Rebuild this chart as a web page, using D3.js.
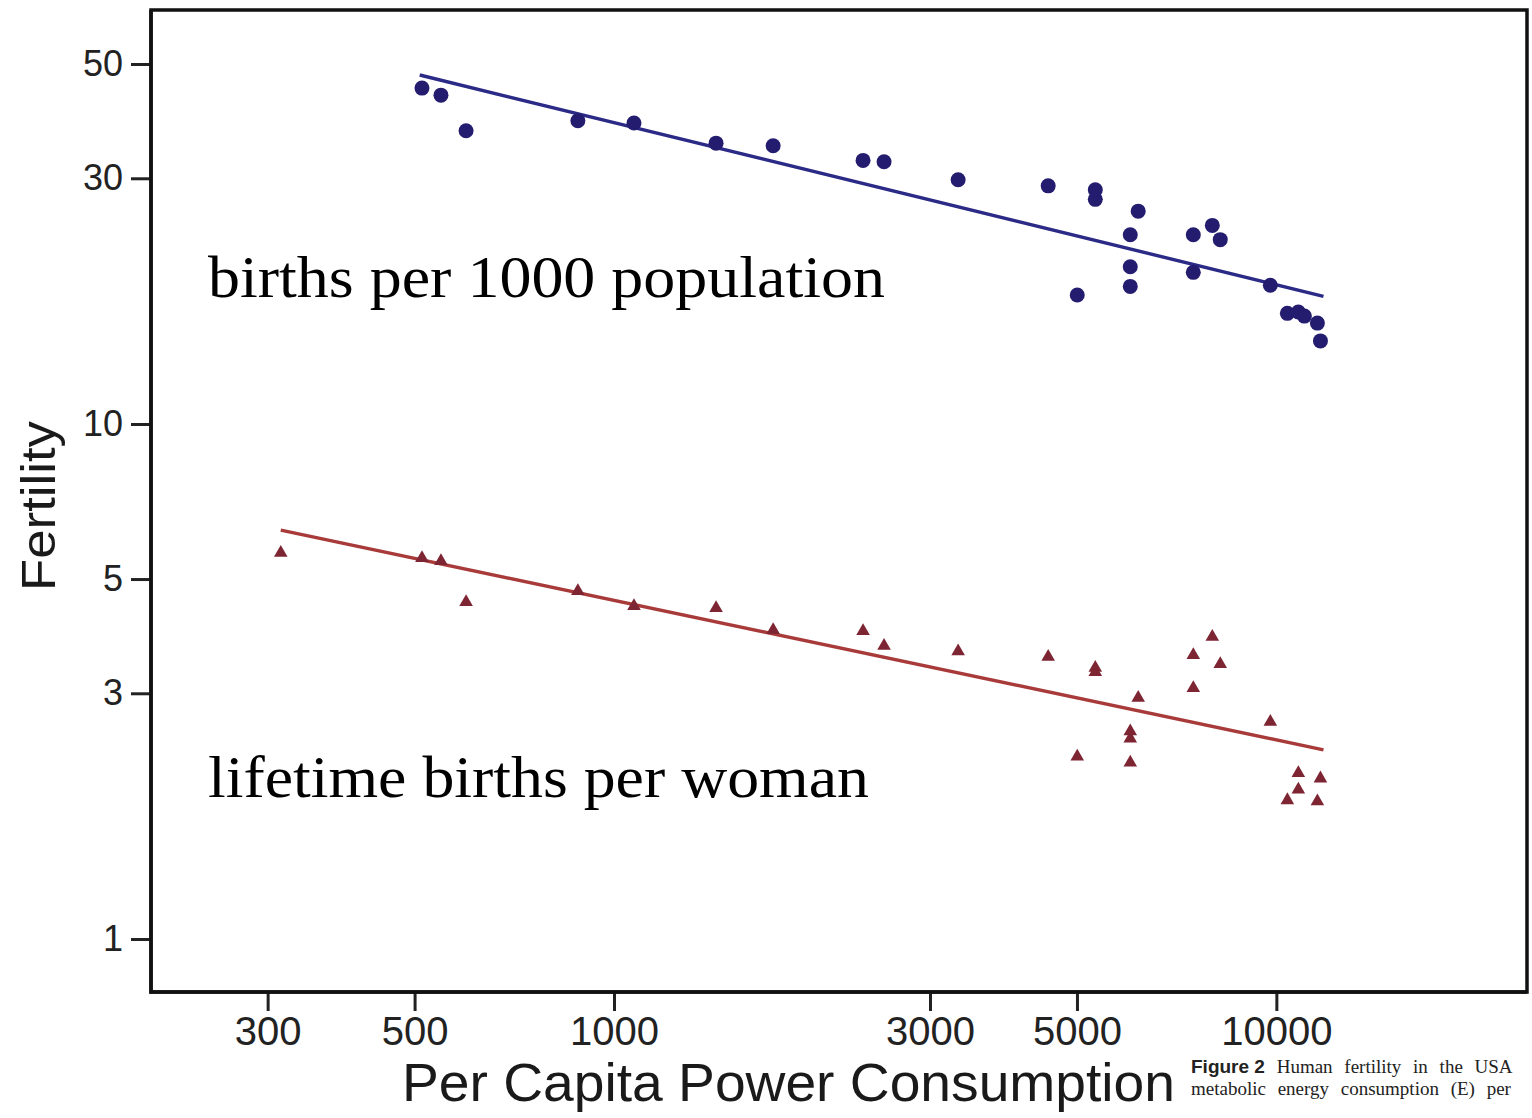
<!DOCTYPE html>
<html>
<head>
<meta charset="utf-8">
<script src="https://cdn.jsdelivr.net/npm/d3@7"></script>
<style>
  html, body { margin: 0; padding: 0; background: #fff; overflow: hidden; }
  svg { display: block; }
</style>
</head>
<body>
<svg id="chart" width="1532" height="1118"></svg>
<script>
// Per capita power consumption (watts) for each observation
const powerBirthRate = [513, 548, 598, 882, 1072, 1426, 1739, 2377, 2557, 3308, 4524, 5005, 5329, 5329,
  6018, 6018, 6018, 6186, 7492, 7492, 8004, 8228, 9793, 10390, 10794, 11023, 11533, 11656];
// Births per 1000 population
const birthRate = [44.9, 43.5, 37.1, 38.8, 38.4, 35.1, 34.7, 32.5, 32.3, 29.8, 29.0, 17.8, 28.5, 27.3,
  23.3, 20.2, 18.5, 25.9, 23.3, 19.7, 24.3, 22.8, 18.6, 16.4, 16.5, 16.2, 15.7, 14.5];

const powerTotalFertility = [314, 513, 548, 598, 882, 1072, 1426, 1739, 2377, 2557, 3308, 4524, 5005, 5329, 5329,
  6018, 6018, 6018, 6186, 7492, 7492, 8004, 8228, 9793, 10390, 10794, 10794, 11533, 11656];
// Lifetime births per woman
const totalFertility = [5.62, 5.49, 5.42, 4.51, 4.74, 4.43, 4.39, 3.98, 3.96, 3.71, 3.62, 3.53, 2.26, 3.36, 3.30,
  2.53, 2.45, 2.20, 2.94, 3.56, 3.07, 3.86, 3.42, 2.64, 1.86, 2.10, 1.95, 1.85, 2.05];

// Fitted power-law trend lines: [x0, x1] and [y0, y1]
const birthRateFitX = [509, 11780];
const birthRateFitY = [47.6, 17.7];
const fertilityFitX = [314, 11780];
const fertilityFitY = [6.22, 2.33];

const xTicks = [300, 500, 1000, 3000, 5000, 10000];
const yTicks = [1, 3, 5, 10, 30, 50];

const seriesLabels = ["births per 1000 population", "lifetime births per woman"];
const xTitle = "Per Capita Power Consumption";
const yTitle = "Fertility";
const captionLines = [
  ["Figure 2", " Human fertility in the USA"],
  ["", "metabolic energy consumption (E) per"]
];

const svg = d3.select("#chart");
const plotLeft = 151, plotRight = 1527, plotTop = 10, plotBottom = 992;

const x = d3.scaleLog().domain([200, 23900]).range([plotLeft, plotRight]);
const y = d3.scaleLog().domain([0.7891, 63.66]).range([plotBottom, plotTop]);

// Frame
svg.append("rect")
  .attr("x", plotLeft).attr("y", plotTop)
  .attr("width", plotRight - plotLeft).attr("height", plotBottom - plotTop)
  .attr("fill", "#fff").attr("stroke", "#111").attr("stroke-width", 3.5);

// Axes
const yAxis = svg.append("g")
  .attr("transform", `translate(${plotLeft},0)`)
  .call(d3.axisLeft(y).tickValues(yTicks).tickFormat(d3.format("d")).tickSize(20).tickSizeOuter(0).tickPadding(8));
yAxis.select(".domain").remove();
yAxis.selectAll(".tick line").attr("stroke", "#222").attr("stroke-width", 3);
yAxis.selectAll(".tick text")
  .attr("font-family", "Liberation Sans, Arial, sans-serif")
  .attr("font-size", 36).attr("fill", "#222");

const xAxis = svg.append("g")
  .attr("transform", `translate(0,${plotBottom})`)
  .call(d3.axisBottom(x).tickValues(xTicks).tickFormat(d3.format("d")).tickSize(19).tickSizeOuter(0).tickPadding(6));
xAxis.select(".domain").remove();
xAxis.selectAll(".tick line").attr("stroke", "#222").attr("stroke-width", 3);
xAxis.selectAll(".tick text")
  .attr("font-family", "Liberation Sans, Arial, sans-serif")
  .attr("font-size", 40).attr("fill", "#222");

// Re-stroke the left and bottom edges over the tick roots
svg.append("path")
  .attr("d", `M${plotLeft},${plotTop}V${plotBottom}H${plotRight}`)
  .attr("fill", "none").attr("stroke", "#111").attr("stroke-width", 3.5);

// Axis titles
svg.append("text")
  .attr("x", 402).attr("y", 1101)
  .attr("font-family", "Liberation Sans, Arial, sans-serif")
  .attr("font-size", 54).attr("fill", "#1a1a1a")
  .attr("textLength", 773).attr("lengthAdjust", "spacingAndGlyphs")
  .text(xTitle);

svg.append("text")
  .attr("transform", "translate(55,506) rotate(-90)")
  .attr("text-anchor", "middle")
  .attr("font-family", "Liberation Sans, Arial, sans-serif")
  .attr("font-size", 48).attr("fill", "#1a1a1a")
  .attr("textLength", 170).attr("lengthAdjust", "spacingAndGlyphs")
  .text(yTitle);

// Trend lines
const line = d3.line().x(d => x(d[0])).y(d => y(d[1]));
svg.append("path")
  .datum(d3.zip(birthRateFitX, birthRateFitY))
  .attr("d", line).attr("fill", "none")
  .attr("stroke", "#2b2a86").attr("stroke-width", 3.4);
svg.append("path")
  .datum(d3.zip(fertilityFitX, fertilityFitY))
  .attr("d", line).attr("fill", "none")
  .attr("stroke", "#a83a3a").attr("stroke-width", 3.4);

// Births per 1000 population
svg.append("g").selectAll("circle")
  .data(d3.zip(powerBirthRate, birthRate))
  .join("circle")
  .attr("cx", d => x(d[0])).attr("cy", d => y(d[1]))
  .attr("r", 7.5).attr("fill", "#241c6e");

// Lifetime births per woman
const tri = d3.symbol(d3.symbolTriangle).size(80);
svg.append("g").selectAll("path")
  .data(d3.zip(powerTotalFertility, totalFertility))
  .join("path")
  .attr("transform", d => `translate(${x(d[0])},${y(d[1])})`)
  .attr("d", tri).attr("fill", "#7e2533");

// Series annotations
svg.append("text")
  .attr("x", 208).attr("y", 297)
  .attr("font-family", "Liberation Serif, Times New Roman, serif")
  .attr("font-size", 60).attr("fill", "#000")
  .attr("textLength", 677).attr("lengthAdjust", "spacingAndGlyphs")
  .text(seriesLabels[0]);
svg.append("text")
  .attr("x", 208).attr("y", 797)
  .attr("font-family", "Liberation Serif, Times New Roman, serif")
  .attr("font-size", 60).attr("fill", "#000")
  .attr("textLength", 661).attr("lengthAdjust", "spacingAndGlyphs")
  .text(seriesLabels[1]);

// Caption fragment (runs past the right edge of the page)
const cap = svg.append("g").attr("font-size", 19).attr("fill", "#222");
captionLines.forEach((ln, i) => {
  const t = cap.append("text").attr("x", 1191).attr("y", 1073 + i * 22);
  if (ln[0]) t.append("tspan").attr("font-family", "Liberation Sans, Arial, sans-serif").attr("font-weight", "bold").text(ln[0]);
  t.append("tspan").attr("font-family", "Liberation Serif, Times New Roman, serif")
    .attr("word-spacing", 7).text(ln[1]);
});
</script>
</body>
</html>
